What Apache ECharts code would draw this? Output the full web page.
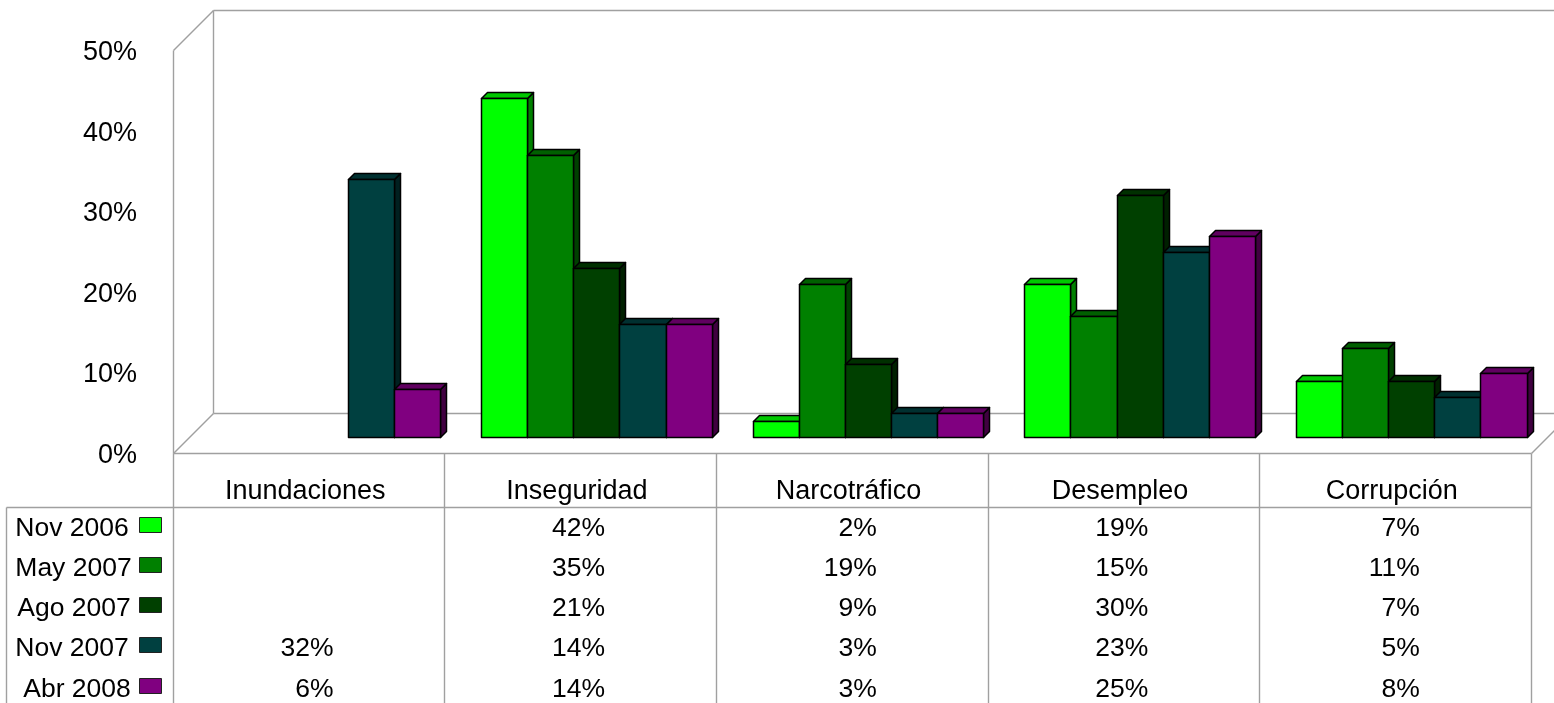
<!DOCTYPE html>
<html><head><meta charset="utf-8">
<style>html,body{margin:0;padding:0;background:#fff;overflow:hidden}#c{width:1554px;height:703px}</style>
<script src="https://cdn.jsdelivr.net/npm/echarts@6/dist/echarts.min.js"></script>
</head><body><div id="c"></div>
<script>
const categories = ['Inundaciones','Inseguridad','Narcotráfico','Desempleo','Corrupción'];
const seriesNames = ['Nov 2006','May 2007','Ago 2007','Nov 2007','Abr 2008'];
const legendLabels = ['Nov 2006','May 2007','Ago 2007','Nov 2007','Abr 2008'];
const nov2006 = [null,42,2,19,7];
const may2007 = [null,35,19,15,11];
const ago2007 = [null,21,9,30,7];
const nov2007 = [32,14,3,23,5];
const abr2008 = [6,14,3,25,8];
const yTicks = [0,10,20,30,40,50];
const seriesValues = [nov2006,may2007,ago2007,nov2007,abr2008];
const faces = [
  {front:'#00ff00',top:'#00c800',side:'#008000'},
  {front:'#008000',top:'#006000',side:'#004000'},
  {front:'#004000',top:'#003000',side:'#002000'},
  {front:'#004040',top:'#003030',side:'#002020'},
  {front:'#800080',top:'#600060',side:'#400040'}
];
const FONT='"Liberation Sans", Arial, sans-serif', FS=26.5, FSA=27;
const GREY='#a0a0a0';
const L=173,R=1531,T=50,B=453,D=40;
const colX=[173,444,716,988,1259,1531];
const rowY=[529,569,609,649,690];
const legendCx=[72,73.5,74,72,77];

function line(x1,y1,x2,y2){return {type:'line',z:0,silent:true,shape:{x1:x1+.5,y1:y1+.5,x2:x2+.5,y2:y2+.5},style:{stroke:GREY,lineWidth:1.4}};}
const gfx=[
  line(L,T,L,B),line(L,T,L+D,T-D),line(L,B,L+D,B-D),
  line(L+D,T-D,L+D,B-D),line(L+D,T-D,1554,T-D),line(L+D,B-D,1554,B-D),
  line(L,B,R,B),line(R,B,1554,B-23),
  line(6,507,R,507),line(6,507,6,703)
];
colX.forEach(x=>gfx.push(line(x,B,x,703)));
legendLabels.forEach((t,i)=>{
  gfx.push({type:'text',z:5,silent:true,style:{text:t,x:legendCx[i],y:rowY[i],align:'center',verticalAlign:'middle',font:FS+'px '+FONT,fill:'#000'}});
  gfx.push({type:'rect',z:5,silent:true,shape:{x:139.5,y:rowY[i]-11.5,width:22,height:15},style:{fill:faces[i].front,stroke:'#222',lineWidth:1}});
});

function barSeries(idx){
  const values=seriesValues[idx];
  return {
    type:'custom',name:seriesNames[idx],z:2,clip:false,
    coordinateSystem:'cartesian2d',encode:{x:0,y:1},
    data:values.map((v,c)=>[c,v]).filter(d=>d[1]!==null),
    renderItem(params,api){
      const cat=api.value(0),val=api.value(1);
      const catW=api.size([1,0])[0],w=catW*0.17,dx=16,dy=-16,dp=6;
      const x0=Math.round(api.coord([cat,0])[0]+dx+(idx-2.5)*w)+.5;
      const x1=Math.round(api.coord([cat,0])[0]+dx+(idx-1.5)*w)+.5;
      const yb=Math.round(api.coord([cat,0])[1]+dy)+.5;
      const yt=Math.round(api.coord([cat,val])[1]+dy)+.5;
      const st=f=>({fill:f,stroke:'#000',lineWidth:1.5,lineJoin:'round'});
      return {type:'group',children:[
        {type:'polygon',shape:{points:[[x1,yb],[x1+dp,yb-dp],[x1+dp,yt-dp],[x1,yt]]},style:st(faces[idx].side)},
        {type:'polygon',shape:{points:[[x0,yt],[x0+dp,yt-dp],[x1+dp,yt-dp],[x1,yt]]},style:st(faces[idx].top)},
        {type:'rect',shape:{x:x0,y:yt,width:x1-x0,height:yb-yt},style:st(faces[idx].front)}
      ]};
    }
  };
}
const tableData=[];
seriesValues.forEach((vals,r)=>vals.forEach((v,c)=>{if(v!==null)tableData.push([c,v,r]);}));
const tableSeries={
  type:'custom',z:5,clip:false,silent:true,coordinateSystem:'cartesian2d',encode:{x:0,y:1},
  data:tableData,
  renderItem(params,api){
    return {type:'text',style:{text:api.value(1)+'%',x:api.coord([api.value(0),0])[0]+24.7,y:rowY[api.value(2)],
      align:'right',verticalAlign:'middle',font:FS+'px '+FONT,fill:'#000'}};
  }
};
const chart=echarts.init(document.getElementById('c'),null,{renderer:'canvas',width:1554,height:703});
chart.setOption({
  animation:false,backgroundColor:'#fff',
  grid:{left:L,top:T,width:R-L,height:B-T,containLabel:false},
  xAxis:{type:'category',data:categories,boundaryGap:true,axisLine:{show:false},axisTick:{show:false},
    splitLine:{show:false},axisLabel:{interval:0,margin:25,padding:[0,7,0,0],color:'#000',fontFamily:'Liberation Sans',fontSize:FSA}},
  yAxis:{type:'value',min:yTicks[0],max:yTicks[yTicks.length-1],interval:10,axisLine:{show:false},axisTick:{show:false},
    splitLine:{show:false},axisLabel:{margin:36,verticalAlign:'top',lineHeight:5,color:'#000',fontFamily:'Liberation Sans',fontSize:FSA,formatter:'{value}%'}},
  graphic:{elements:gfx},
  series:[0,1,2,3,4].map(barSeries).concat([tableSeries])
});
</script></body></html>
